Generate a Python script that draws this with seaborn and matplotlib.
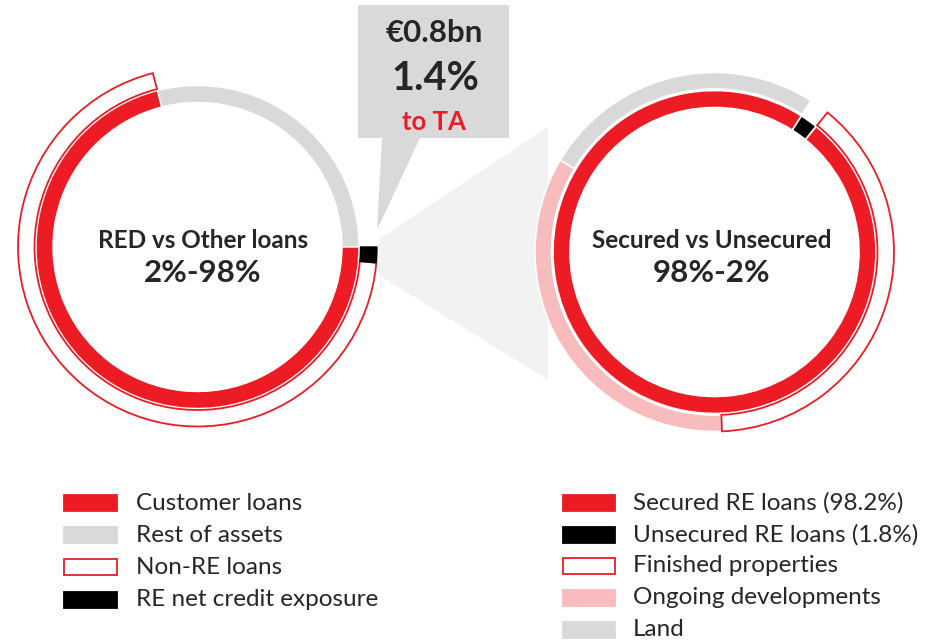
import matplotlib.pyplot as plt
import seaborn as sns
from matplotlib.patches import Polygon, Rectangle

sns.set_theme(style="white")
plt.rcParams['font.family'] = ['Lato', 'DejaVu Sans']

RED = '#ED1C24'
GREY = '#D9D9D9'
PINK = '#F8BBBE'
BLACK = '#000000'
LIGHT = '#F2F2F2'

W, H = 932, 640

# Left donut: split of total assets (inner) and customer loans (outer)
assets_labels = ['Rest of assets', 'Customer loans']
assets_values = [29.0, 71.0]
loans_labels = ['', 'Non-RE loans', 'RE net credit exposure']
loans_values = [29.0, 69.6, 1.4]

# Right donut: RE loans (inner) and secured RE breakdown (outer)
re_labels = ['Unsecured RE loans (1.8%)', 'Secured RE loans (98.2%)']
re_values = [1.8, 98.2]
secured_labels = ['', 'Land', 'Ongoing developments', 'Finished properties']
secured_values = [1.8, 25.5, 34.2, 38.5]

callout_lines = ['€0.8bn', '1.4%', 'to TA']
left_title = ['RED vs Other loans', '2%-98%']
right_title = ['Secured vs Unsecured', '98%-2%']

left_legend = ['Customer loans', 'Rest of assets', 'Non-RE loans', 'RE net credit exposure']
left_legend_colors = [RED, GREY, 'white', BLACK]
right_legend = ['Secured RE loans (98.2%)', 'Unsecured RE loans (1.8%)', 'Finished properties',
                'Ongoing developments', 'Land']
right_legend_colors = [RED, BLACK, 'white', PINK, GREY]

fig = plt.figure(figsize=(W / 100, H / 100), dpi=100)
ax = fig.add_axes([0, 0, 1, 1])

# funnel linking the RE slice to the right donut
ax.add_patch(Polygon([(379, H - 239), (548, H - 127), (548, H - 380), (379, H - 275)],
                     closed=True, facecolor=LIGHT, edgecolor='none', zorder=0))

# callout box with pointer
ax.add_patch(Polygon([(358, H - 5), (509, H - 5), (509, H - 138), (420, H - 138),
                      (377, H - 230), (382, H - 138), (358, H - 138)],
                     closed=True, facecolor=GREY, edgecolor='none', zorder=1))

left_c = (197.5, H - 247)
right_c = (714.5, H - 252)

# left donut
ax.pie(assets_values, colors=[GREY, RED], startangle=0, radius=161.5, center=left_c,
       wedgeprops=dict(width=17, edgecolor='white', linewidth=1))
wl, _ = ax.pie(loans_values, colors=['white', 'white', BLACK], startangle=0, radius=179.5,
               center=left_c, wedgeprops=dict(width=16.5, edgecolor='white', linewidth=1))
wl[0].set_visible(False)
wl[1].set_edgecolor(RED)
wl[1].set_linewidth(1.3)
wl[2].set_edgecolor(BLACK)

# right donut
ax.pie(re_values, colors=[BLACK, RED], startangle=51, radius=161.5, center=right_c,
       wedgeprops=dict(width=17, edgecolor='white', linewidth=1.2))
wr, _ = ax.pie(secured_values, colors=['white', GREY, PINK, 'white'], startangle=51, radius=179.5,
               center=right_c, wedgeprops=dict(width=16.5, edgecolor='white', linewidth=1.2))
wr[0].set_visible(False)
wr[3].set_edgecolor(RED)
wr[3].set_linewidth(1.3)

ax.set_xlim(0, W)
ax.set_ylim(0, H)
ax.set_aspect('equal')
ax.axis('off')

# centre texts
ax.text(203, H - 240, left_title[0], ha='center', va='center', fontsize=17.5, fontweight='bold')
ax.text(203, H - 273, left_title[1], ha='center', va='center', fontsize=22.5, fontweight='bold')
ax.text(712, H - 240, right_title[0], ha='center', va='center', fontsize=17.5, fontweight='bold')
ax.text(712, H - 273, right_title[1], ha='center', va='center', fontsize=22.5, fontweight='bold')

# callout texts
ax.text(434, H - 33, callout_lines[0], ha='center', va='center', fontsize=22.5, fontweight='bold')
ax.text(435, H - 78, callout_lines[1], ha='center', va='center', fontsize=28.5, fontweight='bold')
ax.text(434, H - 122, callout_lines[2], ha='center', va='center', fontsize=18.5, fontweight='bold',
        color=RED)

# legends
left_rows = [503, 535, 567, 600]
for lab, col, y in zip(left_legend, left_legend_colors, left_rows):
    edge = RED if col == 'white' else col
    ax.add_patch(Rectangle((64, H - y - 8), 53, 16, facecolor=col, edgecolor=edge, linewidth=1.3))
    ax.text(136, H - y, lab, ha='left', va='center', fontsize=17.5)

right_rows = [503, 535, 566, 598, 630]
for lab, col, y in zip(right_legend, right_legend_colors, right_rows):
    edge = RED if col == 'white' else col
    ax.add_patch(Rectangle((563, H - y - 8), 52, 16, facecolor=col, edgecolor=edge, linewidth=1.3))
    ax.text(633, H - y, lab, ha='left', va='center', fontsize=17.5)

fig.savefig('out.png', dpi=100)
